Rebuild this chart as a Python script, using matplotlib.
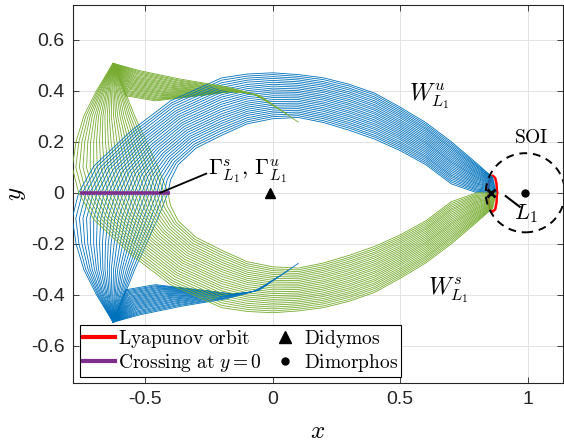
import numpy as np
import matplotlib
matplotlib.use("Agg")
import matplotlib.pyplot as plt
from matplotlib.patches import Circle
from matplotlib.lines import Line2D

plt.rcParams['mathtext.fontset'] = 'cm'
plt.rcParams['axes.unicode_minus'] = False
plt.rcParams['font.family'] = ['Liberation Sans', 'DejaVu Sans']

# ---------------- data ----------------
# Unstable manifold W^u (blue), trajectories listed inner -> outer.
# The stable manifold W^s (green) is its mirror image y -> -y.
start_x = [0.876, 0.875, 0.875, 0.874, 0.874, 0.873, 0.873, 0.872, 0.871, 0.871, 0.870, 0.870, 0.869,
           0.868, 0.868, 0.867, 0.867, 0.866, 0.866, 0.865, 0.864, 0.864, 0.863, 0.863, 0.862]
start_y = [0.000, 0.003, 0.005, 0.008, 0.010, 0.013, 0.015, 0.018, 0.020, 0.023, 0.025, 0.028, 0.030,
           0.033, 0.035, 0.038, 0.040, 0.043, 0.045, 0.048, 0.050, 0.053, 0.055, 0.058, 0.060]

# band part: y of each trajectory at fixed x stations
band_x = [0.80, 0.70, 0.60, 0.50, 0.40, 0.30, 0.20, 0.10, 0.00, -0.10, -0.20]
y_x080 = [0.000, 0.005, 0.010, 0.014, 0.019, 0.024, 0.029, 0.034, 0.038, 0.043, 0.048, 0.053, 0.058,
          0.062, 0.067, 0.072, 0.077, 0.081, 0.086, 0.091, 0.096, 0.101, 0.105, 0.110, 0.115]
y_x070 = [0.035, 0.042, 0.049, 0.056, 0.063, 0.069, 0.076, 0.083, 0.090, 0.097, 0.104, 0.111, 0.118,
          0.124, 0.131, 0.138, 0.145, 0.152, 0.159, 0.166, 0.173, 0.179, 0.186, 0.193, 0.200]
y_x060 = [0.110, 0.117, 0.124, 0.131, 0.138, 0.144, 0.151, 0.158, 0.165, 0.172, 0.179, 0.186, 0.193,
          0.199, 0.206, 0.213, 0.220, 0.227, 0.234, 0.241, 0.248, 0.254, 0.261, 0.268, 0.275]
y_x050 = [0.165, 0.172, 0.179, 0.186, 0.193, 0.200, 0.208, 0.215, 0.222, 0.229, 0.236, 0.243, 0.250,
          0.257, 0.264, 0.271, 0.278, 0.285, 0.293, 0.300, 0.307, 0.314, 0.321, 0.328, 0.335]
y_x040 = [0.210, 0.218, 0.225, 0.233, 0.240, 0.248, 0.255, 0.263, 0.270, 0.278, 0.285, 0.293, 0.300,
          0.308, 0.315, 0.323, 0.330, 0.338, 0.345, 0.353, 0.360, 0.368, 0.375, 0.383, 0.390]
y_x030 = [0.245, 0.253, 0.260, 0.268, 0.275, 0.283, 0.290, 0.298, 0.305, 0.313, 0.320, 0.328, 0.335,
          0.343, 0.350, 0.358, 0.365, 0.373, 0.380, 0.388, 0.395, 0.403, 0.410, 0.418, 0.425]
y_x020 = [0.275, 0.282, 0.290, 0.297, 0.304, 0.311, 0.319, 0.326, 0.333, 0.341, 0.348, 0.355, 0.363,
          0.370, 0.377, 0.384, 0.392, 0.399, 0.406, 0.414, 0.421, 0.428, 0.435, 0.443, 0.450]
y_x010 = [0.295, 0.302, 0.309, 0.316, 0.323, 0.330, 0.337, 0.344, 0.351, 0.358, 0.365, 0.372, 0.379,
          0.386, 0.393, 0.400, 0.407, 0.414, 0.421, 0.428, 0.435, 0.442, 0.449, 0.456, 0.463]
y_x000 = [0.290, 0.298, 0.305, 0.313, 0.320, 0.328, 0.335, 0.343, 0.350, 0.358, 0.365, 0.373, 0.380,
          0.388, 0.395, 0.403, 0.410, 0.418, 0.425, 0.433, 0.440, 0.448, 0.455, 0.463, 0.470]
y_xm010 = [0.270, 0.278, 0.286, 0.294, 0.303, 0.311, 0.319, 0.327, 0.335, 0.343, 0.351, 0.359, 0.368,
           0.376, 0.384, 0.392, 0.400, 0.408, 0.416, 0.424, 0.433, 0.441, 0.449, 0.457, 0.465]
y_xm020 = [0.225, 0.234, 0.244, 0.253, 0.263, 0.272, 0.281, 0.291, 0.300, 0.309, 0.319, 0.328, 0.338,
           0.347, 0.356, 0.366, 0.375, 0.384, 0.394, 0.403, 0.413, 0.422, 0.431, 0.441, 0.450]

# descent on the left side
pa_x = [-0.300, -0.304, -0.308, -0.313, -0.317, -0.321, -0.325, -0.329, -0.333, -0.338, -0.342, -0.346, -0.350,
        -0.354, -0.358, -0.363, -0.367, -0.371, -0.375, -0.379, -0.383, -0.388, -0.392, -0.396, -0.400]
pa_y = [0.175, 0.183, 0.190, 0.198, 0.206, 0.214, 0.221, 0.229, 0.237, 0.244, 0.252, 0.260, 0.268,
        0.275, 0.283, 0.291, 0.298, 0.306, 0.314, 0.321, 0.329, 0.337, 0.345, 0.352, 0.360]
pb_x = [-0.370, -0.378, -0.385, -0.393, -0.400, -0.408, -0.415, -0.423, -0.430, -0.438, -0.445, -0.453, -0.460,
        -0.468, -0.475, -0.483, -0.490, -0.498, -0.505, -0.513, -0.520, -0.528, -0.535, -0.543, -0.550]
pb_y = [0.110, 0.116, 0.121, 0.127, 0.133, 0.138, 0.144, 0.150, 0.155, 0.161, 0.167, 0.172, 0.178,
        0.184, 0.189, 0.195, 0.201, 0.206, 0.212, 0.218, 0.223, 0.229, 0.235, 0.240, 0.246]
pc_x = [-0.400, -0.413, -0.425, -0.438, -0.450, -0.463, -0.475, -0.488, -0.500, -0.513, -0.525, -0.538, -0.550,
        -0.563, -0.575, -0.588, -0.600, -0.613, -0.625, -0.638, -0.650, -0.663, -0.675, -0.688, -0.700]
pc_y = [0.050, 0.052, 0.055, 0.057, 0.059, 0.061, 0.064, 0.066, 0.068, 0.071, 0.073, 0.075, 0.078,
        0.080, 0.082, 0.084, 0.087, 0.089, 0.091, 0.094, 0.096, 0.098, 0.100, 0.103, 0.105]
cross_x = [-0.410, -0.425, -0.439, -0.454, -0.468, -0.483, -0.498, -0.512, -0.527, -0.541, -0.556, -0.570, -0.585,
           -0.600, -0.614, -0.629, -0.643, -0.658, -0.673, -0.687, -0.702, -0.716, -0.731, -0.745, -0.760]
d_levels = [-0.1, -0.2, -0.3, -0.4]
d1_x = [-0.450, -0.464, -0.478, -0.492, -0.506, -0.520, -0.534, -0.548, -0.562, -0.576, -0.590, -0.604, -0.618,
        -0.631, -0.645, -0.659, -0.673, -0.687, -0.701, -0.715, -0.729, -0.743, -0.757, -0.771, -0.785]
d2_x = [-0.495, -0.506, -0.518, -0.529, -0.541, -0.552, -0.564, -0.575, -0.587, -0.598, -0.610, -0.621, -0.633,
        -0.644, -0.655, -0.667, -0.678, -0.690, -0.701, -0.713, -0.724, -0.736, -0.747, -0.759, -0.770]
d3_x = [-0.540, -0.548, -0.557, -0.565, -0.573, -0.582, -0.590, -0.598, -0.607, -0.615, -0.623, -0.632, -0.640,
        -0.648, -0.657, -0.665, -0.673, -0.682, -0.690, -0.698, -0.707, -0.715, -0.723, -0.732, -0.740]
d4_x = [-0.580, -0.585, -0.589, -0.594, -0.598, -0.603, -0.608, -0.612, -0.617, -0.621, -0.626, -0.630, -0.635,
        -0.640, -0.644, -0.649, -0.653, -0.658, -0.663, -0.667, -0.672, -0.676, -0.681, -0.685, -0.690]
cusp = (-0.625, -0.507)

# tail after the cusp
t1_x = [-0.575, -0.573, -0.570, -0.568, -0.566, -0.564, -0.561, -0.559, -0.557, -0.554, -0.552, -0.550, -0.548,
        -0.545, -0.543, -0.541, -0.538, -0.536, -0.534, -0.531, -0.529, -0.527, -0.525, -0.522, -0.520]
t1_y = [-0.380, -0.384, -0.388, -0.392, -0.396, -0.400, -0.405, -0.409, -0.413, -0.417, -0.421, -0.425, -0.429,
        -0.433, -0.437, -0.441, -0.445, -0.449, -0.453, -0.457, -0.462, -0.466, -0.470, -0.474, -0.478]
t2_x = [-0.460, -0.456, -0.452, -0.448, -0.443, -0.439, -0.435, -0.431, -0.427, -0.423, -0.418, -0.414, -0.410,
        -0.406, -0.402, -0.398, -0.393, -0.389, -0.385, -0.381, -0.377, -0.373, -0.368, -0.364, -0.360]
t2_y = [-0.360, -0.364, -0.367, -0.371, -0.374, -0.378, -0.381, -0.385, -0.388, -0.392, -0.395, -0.399, -0.403,
        -0.406, -0.410, -0.413, -0.417, -0.420, -0.424, -0.427, -0.431, -0.434, -0.438, -0.441, -0.445]
t3_x = [-0.330, -0.324, -0.318, -0.311, -0.305, -0.299, -0.293, -0.286, -0.280, -0.274, -0.268, -0.261, -0.255,
        -0.249, -0.243, -0.236, -0.230, -0.224, -0.218, -0.211, -0.205, -0.199, -0.193, -0.186, -0.180]
t3_y = [-0.375, -0.377, -0.378, -0.380, -0.382, -0.383, -0.385, -0.387, -0.388, -0.390, -0.392, -0.393, -0.395,
        -0.397, -0.398, -0.400, -0.402, -0.403, -0.405, -0.407, -0.408, -0.410, -0.412, -0.413, -0.415]
t4_x = [-0.250, -0.242, -0.233, -0.225, -0.217, -0.208, -0.200, -0.192, -0.183, -0.175, -0.167, -0.158, -0.150,
        -0.142, -0.133, -0.125, -0.117, -0.108, -0.100, -0.092, -0.083, -0.075, -0.067, -0.058, -0.050]
t4_y = [-0.385, -0.386, -0.387, -0.388, -0.389, -0.390, -0.391, -0.392, -0.393, -0.394, -0.395, -0.395, -0.395,
        -0.395, -0.395, -0.394, -0.393, -0.392, -0.391, -0.390, -0.388, -0.386, -0.384, -0.382, -0.380]
t5_x = [-0.250, -0.242, -0.233, -0.225, -0.217, -0.208, -0.200, -0.192, -0.183, -0.175, -0.167, -0.158, -0.150,
        -0.142, -0.133, -0.125, -0.117, -0.108, -0.100, -0.092, -0.083, -0.020, 0.020, 0.060, 0.100]
t5_y = [-0.385, -0.386, -0.387, -0.388, -0.389, -0.390, -0.391, -0.392, -0.393, -0.394, -0.395, -0.395, -0.395,
        -0.395, -0.395, -0.394, -0.393, -0.392, -0.391, -0.390, -0.388, -0.360, -0.330, -0.305, -0.277]

# Lyapunov orbit around L1
lyap_x = [0.879, 0.877, 0.872, 0.862, 0.852, 0.847, 0.845, 0.847, 0.852, 0.862, 0.872, 0.877, 0.879]
lyap_y = [0.000, 0.035, 0.058, 0.067, 0.058, 0.035, 0.000, -0.040, -0.065, -0.074, -0.065, -0.040, 0.000]

crossing_span = [-0.754, -0.402]
didymos = (-0.010, 0.0)
dimorphos = (0.990, 0.0)
l1_point = (0.855, 0.0)
soi_radius = 0.155

band_y = [y_x080, y_x070, y_x060, y_x050, y_x040, y_x030, y_x020,
          y_x010, y_x000, y_xm010, y_xm020]

BLUE = '#0072BD'
GREEN = '#77AC30'
RED = '#FF0000'
PURPLE = '#7E2F8E'

fig = plt.figure(figsize=(5.64, 4.42), dpi=100)
ax = fig.add_axes([0.129, 0.1335, 0.869, 0.855])

n_traj = len(start_x)
for k in range(n_traj):
    xs = [start_x[k]] + list(band_x) + [pa_x[k], pb_x[k], pc_x[k], cross_x[k],
                                        d1_x[k], d2_x[k], d3_x[k], d4_x[k], cusp[0],
                                        t1_x[k], t2_x[k], t3_x[k], t4_x[k], t5_x[k]]
    ys = [start_y[k]] + [s[k] for s in band_y] + [pa_y[k], pb_y[k], pc_y[k], 0.0] + \
         list(d_levels) + [cusp[1], t1_y[k], t2_y[k], t3_y[k], t4_y[k], t5_y[k]]
    xs = np.array(xs)
    ys = np.array(ys)
    ax.plot(xs, ys, color=BLUE, lw=0.6, zorder=3)
    ax.plot(xs, -ys, color=GREEN, lw=0.6, zorder=3)

ax.plot(lyap_x, lyap_y, color=RED, lw=1.8, zorder=2.5)
ax.plot(crossing_span, [0, 0], color=PURPLE, lw=2.6, zorder=4,
        solid_capstyle='butt')
ax.plot(*didymos, marker='^', color='k', ms=7.5, ls='none', zorder=5)
ax.plot(*dimorphos, marker='o', color='k', ms=5, ls='none', zorder=5)
ax.plot(*l1_point, marker='x', color='k', ms=6, mew=2.0, ls='none', zorder=6)
ax.add_patch(Circle(dimorphos, soi_radius, fill=False, ec='k', lw=1.4,
                    ls=(0, (4, 3)), zorder=5))

# annotations
ax.text(0.615, 0.38, r'$W^u_{L_1}$', fontsize=17, ha='center', va='center')
ax.text(0.687, -0.38, r'$W^s_{L_1}$', fontsize=17, ha='center', va='center')
ax.text(1.015, 0.214, r'$\mathrm{SOI}$', fontsize=14, ha='center', va='center')
ax.text(-0.255, 0.085, r'$\Gamma^s_{L_1},\,\Gamma^u_{L_1}$', fontsize=16,
        ha='left', va='center')
ax.plot([-0.44, -0.26], [0.0, 0.075], color='k', lw=1.3, zorder=6)
ax.text(0.99, -0.08, r'$L_1$', fontsize=16, ha='center', va='center')
ax.plot([0.913, 0.968], [-0.013, -0.055], color='k', lw=1.5, zorder=6)

ax.set_xlim(-0.783, 1.137)
ax.set_ylim(-0.745, 0.735)
ax.set_aspect('equal', adjustable='box')
ax.set_xticks([-0.5, 0, 0.5, 1])
ax.set_xticklabels(['-0.5', '0', '0.5', '1'])
ax.set_yticks([-0.6, -0.4, -0.2, 0, 0.2, 0.4, 0.6])
ax.set_yticklabels(['-0.6', '-0.4', '-0.2', '0', '0.2', '0.4', '0.6'])
ax.tick_params(direction='in', top=True, right=True, labelsize=14,
               length=4, width=0.6, colors='#262626', pad=6)
ax.grid(True, color='#e3e3e3', lw=0.7, zorder=0)
ax.set_axisbelow(True)
for sp in ax.spines.values():
    sp.set_color('#262626')
    sp.set_linewidth(0.8)
ax.set_xlabel(r'$x$', fontsize=18, labelpad=8)
ax.set_ylabel(r'$y$', fontsize=18, labelpad=2)

handles = [Line2D([], [], color=RED, lw=3),
           Line2D([], [], color=PURPLE, lw=3),
           Line2D([], [], color='k', marker='^', ls='none', ms=8),
           Line2D([], [], color='k', marker='o', ls='none', ms=5)]
labels = [r'$\mathrm{Lyapunov\ orbit}$', r'$\mathrm{Crossing\ at}\ y=0$',
          r'$\mathrm{Didymos}$', r'$\mathrm{Dimorphos}$']
leg = ax.legend(handles, labels, ncol=2, loc='lower left',
                bbox_to_anchor=(0.015, 0.016), borderaxespad=0,
                fontsize=14, handlelength=1.65, handletextpad=0.15,
                columnspacing=0.36, labelspacing=0.1, borderpad=0.15,
                fancybox=False, framealpha=1, edgecolor='k')
leg.get_frame().set_linewidth(0.8)
leg.set_zorder(10)

fig.savefig('out.png', dpi=100)
